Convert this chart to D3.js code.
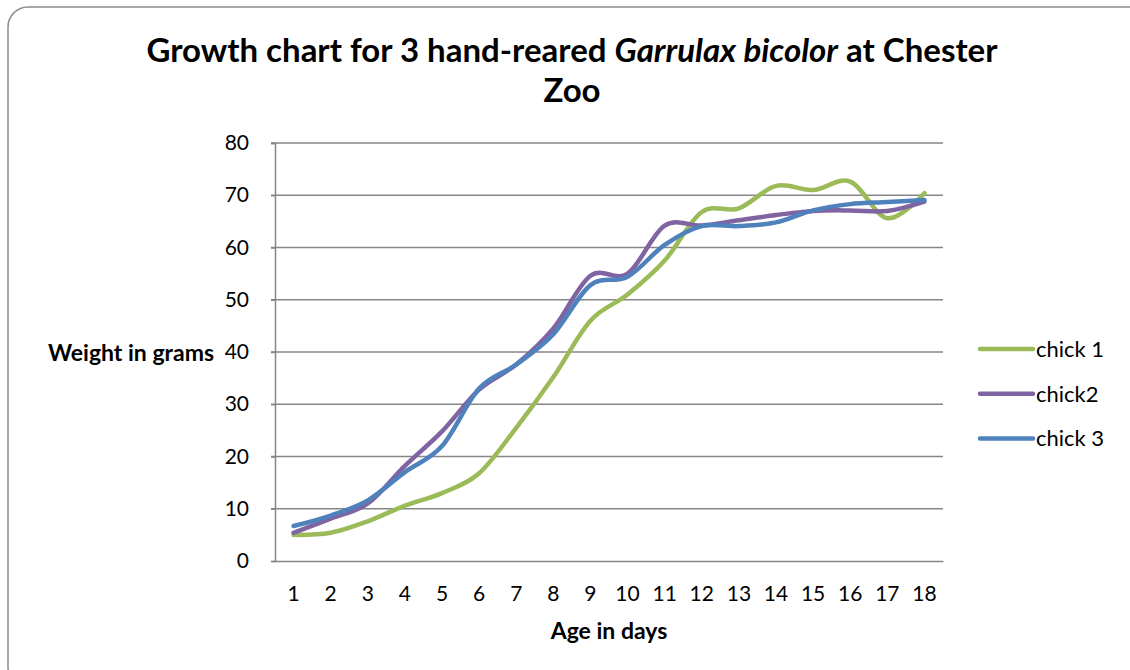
<!DOCTYPE html>
<html>
<head>
<meta charset="utf-8">
<script src="https://cdn.jsdelivr.net/npm/d3@7"></script>
<style>
  body { margin: 0; background: #fff; }
  text { font-family: Lato, "Open Sans", sans-serif; fill: #000; }
</style>
</head>
<body>
<svg id="chart" width="1130" height="670"></svg>
<script>
// age in days (category axis)
var days = [1, 2, 3, 4, 5, 6, 7, 8, 9, 10, 11, 12, 13, 14, 15, 16, 17, 18];
// weights in grams
var chick1 = [5, 5.4, 7.6, 10.6, 13, 16.8, 25.5, 35.2, 46, 51, 57.5, 66.8, 67.5, 71.8, 71, 72.6, 65.6, 70.4];
var chick2 = [5.4, 8.1, 11, 18.2, 24.8, 32.8, 37.6, 44.5, 54.6, 55, 64.2, 64.2, 65.2, 66.2, 67, 67.1, 67, 68.8];
var chick3 = [6.7, 8.7, 11.6, 17, 22, 33, 37.6, 43.4, 52.8, 54.4, 60.5, 64.1, 64.1, 64.8, 67.1, 68.3, 68.7, 69.1];
var seriesNames = ['chick 1', 'chick2', 'chick 3'];
var yTicks = [0, 10, 20, 30, 40, 50, 60, 70, 80];

var colors = ['#9BBB59', '#8064A2', '#4F81BD'];
var series = [chick1, chick2, chick3];

var svg = d3.select('#chart');
var margin = {top: 143, left: 275, right: 187, bottom: 109};
var width = 1130 - margin.left - margin.right;
var height = 670 - margin.top - margin.bottom;

// outer chart border
svg.append('rect')
    .attr('x', 8).attr('y', 7)
    .attr('width', 1140).attr('height', 680)
    .attr('rx', 20).attr('ry', 20)
    .style('fill', 'none')
    .style('stroke', '#8c8c8c')
    .style('stroke-width', 1.5);

var x = d3.scaleBand().domain(days).range([0, width]);
var y = d3.scaleLinear().domain([0, 80]).range([height, 0]);

var g = svg.append('g')
    .attr('transform', 'translate(' + margin.left + ',' + margin.top + ')');

// gridlines
g.append('g')
    .selectAll('line')
    .data(yTicks.filter(function (d) { return d > 0; }))
    .enter()
    .append('line')
    .attr('x1', -4).attr('x2', width)
    .attr('y1', function (d) { return y(d); })
    .attr('y2', function (d) { return y(d); })
    .style('stroke', '#868686')
    .style('stroke-width', 1.5);

// y axis
var yAxis = g.append('g')
    .call(d3.axisLeft(y).tickValues(yTicks).tickSize(4).tickPadding(22));
yAxis.select('.domain').style('stroke', '#868686').style('stroke-width', 1.5);
yAxis.selectAll('.tick line').style('stroke', '#868686').style('stroke-width', 1.5);
yAxis.selectAll('text')
    .style('font-size', '21px')
    .style('font-family', 'Lato, sans-serif');

// x axis
var xAxis = g.append('g')
    .attr('transform', 'translate(0,' + height + ')')
    .call(d3.axisBottom(x).tickSize(0).tickPadding(25));
xAxis.select('.domain').style('stroke', '#868686').style('stroke-width', 1.5);
xAxis.selectAll('text')
    .style('font-size', '21px')
    .style('font-family', 'Lato, sans-serif');

// smoothed lines
var line = d3.line()
    .x(function (d, i) { return x(days[i]) + x.bandwidth() / 2; })
    .y(function (d) { return y(d); })
    .curve(d3.curveCatmullRom.alpha(0));

g.append('g')
    .selectAll('path')
    .data(series)
    .enter()
    .append('path')
    .attr('d', line)
    .style('fill', 'none')
    .style('stroke', function (_d, i) { return colors[i]; })
    .style('stroke-width', 4.5)
    .style('stroke-linejoin', 'round')
    .style('stroke-linecap', 'round');

// legend
var legend = svg.append('g').attr('transform', 'translate(980,349)');
var items = legend.selectAll('g')
    .data(seriesNames)
    .enter()
    .append('g')
    .attr('transform', function (_d, i) { return 'translate(0,' + (i * 44.7) + ')'; });
items.append('line')
    .attr('x1', 0).attr('x2', 53)
    .style('stroke', function (_d, i) { return colors[i]; })
    .style('stroke-width', 4.5)
    .style('stroke-linecap', 'round');
items.append('text')
    .attr('x', 56).attr('y', 8)
    .style('font-size', '22px')
    .text(function (d) { return d; });

// title
var title = svg.append('text')
    .attr('x', 572).attr('y', 62)
    .attr('text-anchor', 'middle')
    .style('font-size', '33px')
    .style('font-weight', 'bold');
title.append('tspan').text('Growth chart for 3 hand-reared ');
title.append('tspan').style('font-style', 'italic').text('Garrulax bicolor');
title.append('tspan').text(' at Chester');
svg.append('text')
    .attr('x', 572).attr('y', 102)
    .attr('text-anchor', 'middle')
    .style('font-size', '33px')
    .style('font-weight', 'bold')
    .text('Zoo');

// axis titles
svg.append('text')
    .attr('x', 214).attr('y', 361)
    .attr('text-anchor', 'end')
    .style('font-size', '23px')
    .style('font-weight', 'bold')
    .text('Weight in grams');
svg.append('text')
    .attr('x', 609).attr('y', 639)
    .attr('text-anchor', 'middle')
    .style('font-size', '23px')
    .style('font-weight', 'bold')
    .text('Age in days');
</script>
</body>
</html>
